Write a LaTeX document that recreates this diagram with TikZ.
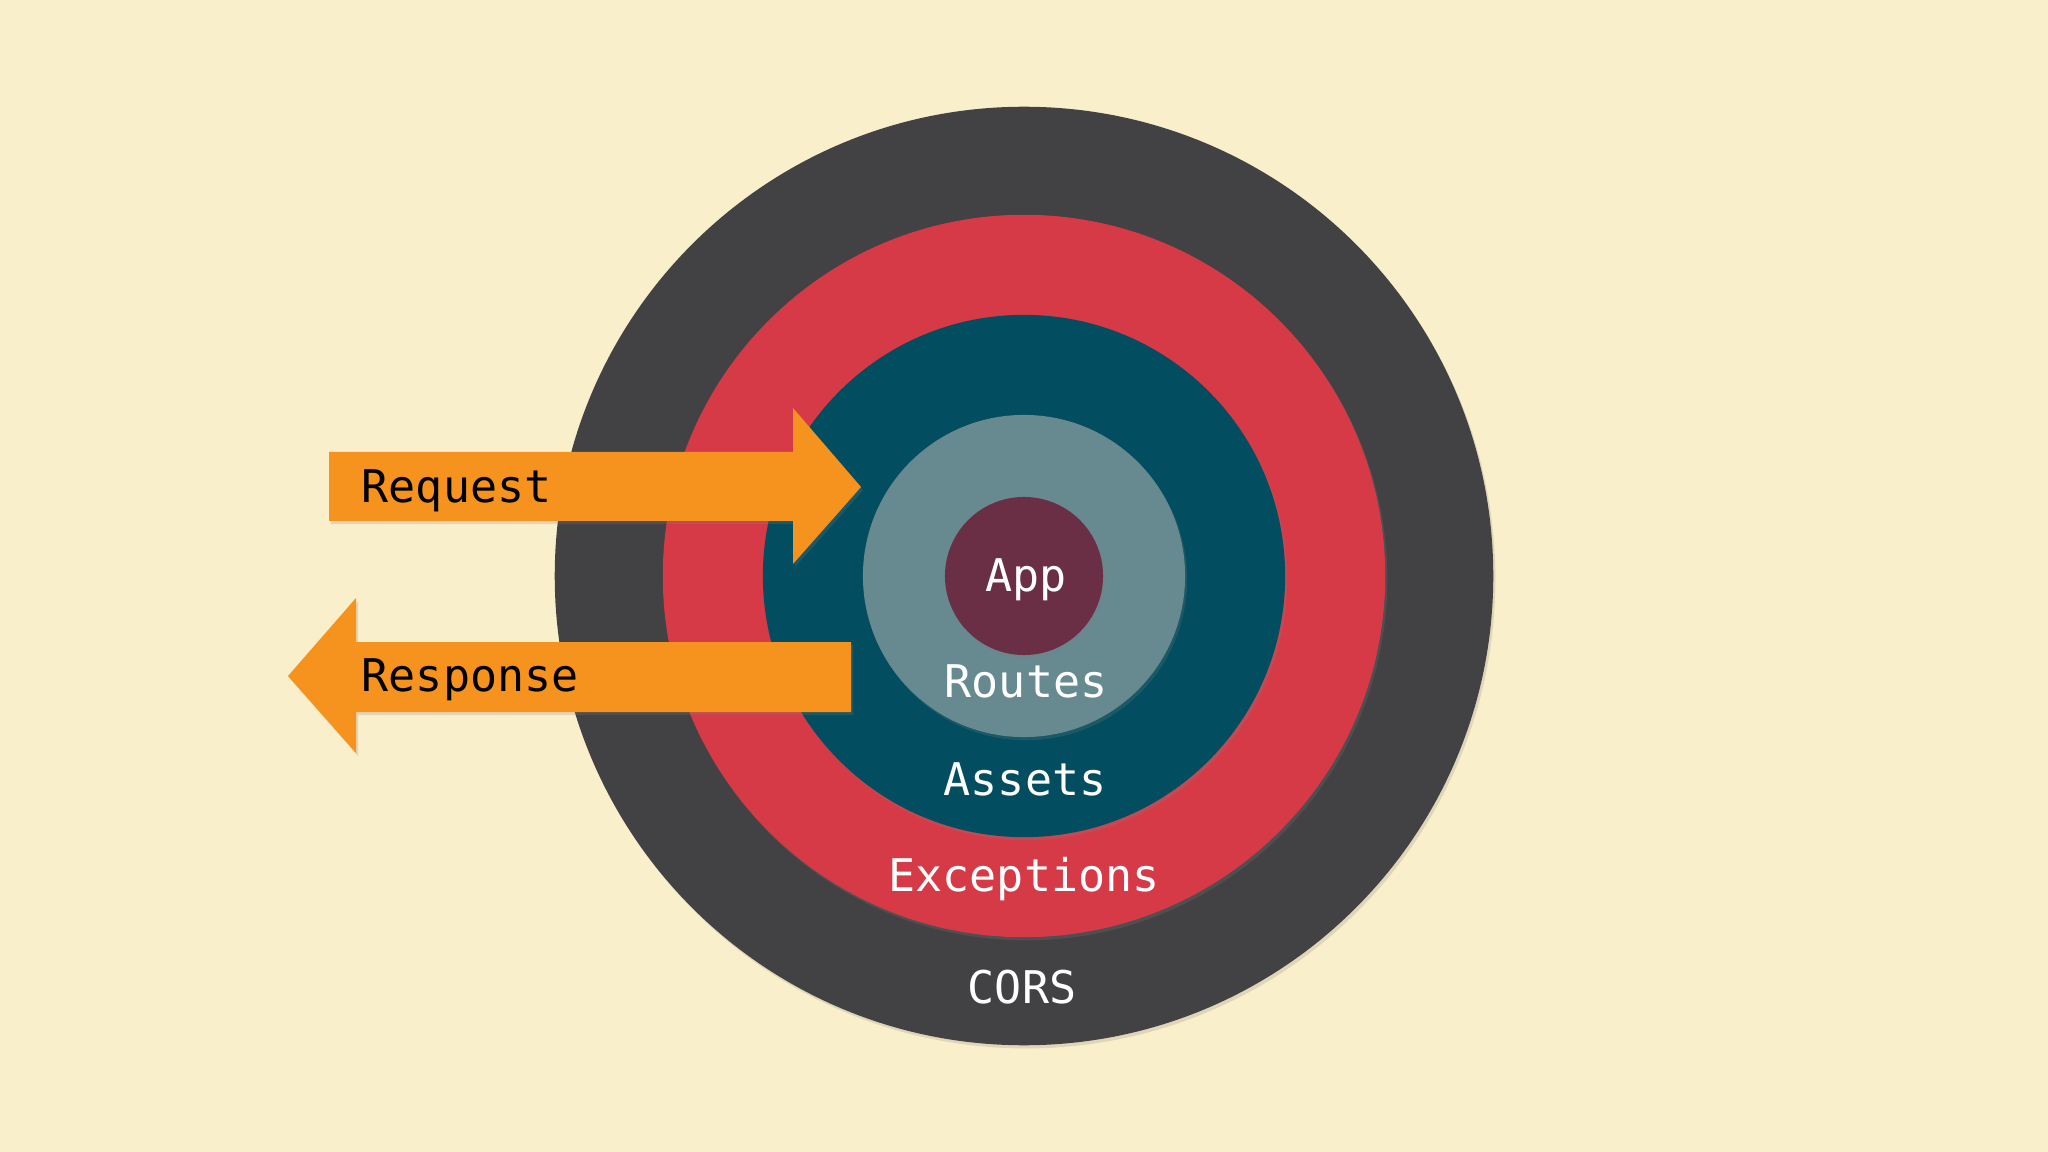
\documentclass[tikz,border=0pt]{standalone}
\usepackage{fontspec}
\setmonofont{DejaVu Sans Mono}
\usetikzlibrary{shadows}
\definecolor{cream}{RGB}{250,239,203}
\definecolor{slate}{RGB}{66,65,67}
\definecolor{cherry}{RGB}{214,58,71}
\definecolor{petrol}{RGB}{2,77,95}
\definecolor{sage}{RGB}{102,138,143}
\definecolor{plum}{RGB}{107,47,69}
\definecolor{tangerine}{RGB}{246,146,30}
\tikzset{
  ring/.style={circle,fill=#1,inner sep=0pt,
    drop shadow={opacity=0.22,shadow xshift=0.6pt,shadow yshift=-0.9pt}},
  ring/.default=slate,
  flowarrow/.style={fill=tangerine,
    drop shadow={opacity=0.22,shadow xshift=0.6pt,shadow yshift=-0.9pt}},
  layername/.style={text=white,anchor=base,inner sep=0pt,
    font=\ttfamily\fontsize{12.8}{15}\selectfont},
  arrowname/.style={text=black,anchor=base west,inner sep=0pt,
    font=\ttfamily\fontsize{12.8}{15}\selectfont},
}
\begin{document}
\begin{tikzpicture}[x=0.01cm,y=-0.01cm]
  \fill[cream] (0,0) rectangle (2048,1152);
  \useasboundingbox (0,0) rectangle (2048,1152);
  % the layers, outside in
  \node[ring=slate,minimum size=9.38cm] (cors) at (1024,576) {};
  \node[ring=cherry,minimum size=7.22cm] (exceptions) at (1024,576) {};
  \node[ring=petrol,minimum size=5.22cm] (assets) at (1024,576) {};
  \node[ring=sage,minimum size=3.22cm] (routes) at (1024,576) {};
  \node[ring=plum,minimum size=1.58cm] (app) at (1024,576) {};
  \node[layername] (app-name) at (1026,592) {App};
  \node[layername] (routes-name) at (1026,697) {Routes};
  \node[layername] (assets-name) at (1025,795) {Assets};
  \node[layername] (exceptions-name) at (1024,891) {Exceptions};
  \node[layername] (cors-name) at (1022,1003) {CORS};
  % request in, response out
  \fill[flowarrow] (329,452) -- (793,452) -- (793,408) -- (861,487)
    -- (793,564) -- (793,521) -- (329,521) -- cycle;
  \fill[flowarrow] (851,642) -- (356,642) -- (356,598) -- (288,676)
    -- (356,753) -- (356,712) -- (851,712) -- cycle;
  \node[arrowname] (request) at (361,502) {Request};
  \node[arrowname] (response) at (361,692) {Response};
\end{tikzpicture}
\end{document}
